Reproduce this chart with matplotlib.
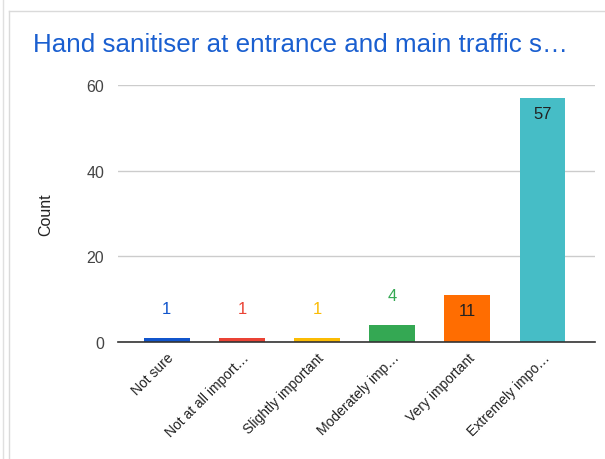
import matplotlib
matplotlib.use("Agg")
import matplotlib.pyplot as plt
from matplotlib.lines import Line2D

plt.rcParams['font.family'] = ['Liberation Sans', 'DejaVu Sans']

title = "Hand sanitiser at entrance and main traffic s…"
categories = ["Not sure", "Not at all import…", "Slightly important",
              "Moderately imp…", "Very important", "Extremely impo…"]
counts = [1, 1, 1, 4, 11, 57]
colors = ["#1155cc", "#ea4335", "#fbbc04", "#34a853", "#ff6d01", "#46bdc6"]
yticks = [0, 20, 40, 60]

fig = plt.figure(figsize=(6.05, 4.6), dpi=100)
fig.patch.set_facecolor("white")

# card borders
W, H = 605, 460
def fx(x): return x / W
def fy(y): return 1 - y / H
fig.add_artist(Line2D([fx(3), fx(3)], [fy(0), fy(460)], color="#e0e0e0", lw=1))
fig.add_artist(Line2D([fx(9), fx(9)], [fy(12), fy(460)], color="#dadada", lw=1))
fig.add_artist(Line2D([fx(9), fx(605)], [fy(12), fy(12)], color="#dadada", lw=1))

ax = fig.add_axes([fx(118), fy(343), fx(595) - fx(118), fy(86) - fy(343)])
x = list(range(len(categories)))
ax.bar(x, counts, width=0.61, color=colors, zorder=3)
ax.set_xlim(-0.65, len(categories) - 1 + 0.7)
ax.set_ylim(0, 60)
ax.set_yticks(yticks)
ax.set_yticklabels([str(v) for v in yticks], fontsize=11.5, color="#444444")
ax.tick_params(axis="y", length=0, pad=10)
ax.yaxis.grid(True, color="#cccccc", lw=1, zorder=0)
ax.set_axisbelow(True)
for s in ["top", "right", "left"]:
    ax.spines[s].set_visible(False)
ax.spines["bottom"].set_color("#333333")
ax.spines["bottom"].set_linewidth(1.2)
ax.spines["bottom"].set_zorder(4)
ax.set_xticks(x)
ax.set_xticklabels(categories, rotation=45, ha="right", rotation_mode="anchor",
                   fontsize=10, color="#222222")
ax.tick_params(axis="x", length=0, pad=6)
ax.set_ylabel("Count", fontsize=11.5, color="#222222", labelpad=24)

for xi, v, c in zip(x, counts, colors):
    if v >= 10:
        ax.annotate(str(v), (xi, v), xytext=(0, -11), textcoords="offset points",
                    ha="center", va="center", fontsize=12, color="#222222", zorder=5)
    else:
        ax.annotate(str(v), (xi, v), xytext=(0, 21), textcoords="offset points",
                    ha="center", va="center", fontsize=12, color=c, zorder=5)

fig.text(fx(33), fy(45), title, fontsize=18.7, color="#1a5fd0", ha="left", va="center")

fig.savefig("out.png", dpi=100)
